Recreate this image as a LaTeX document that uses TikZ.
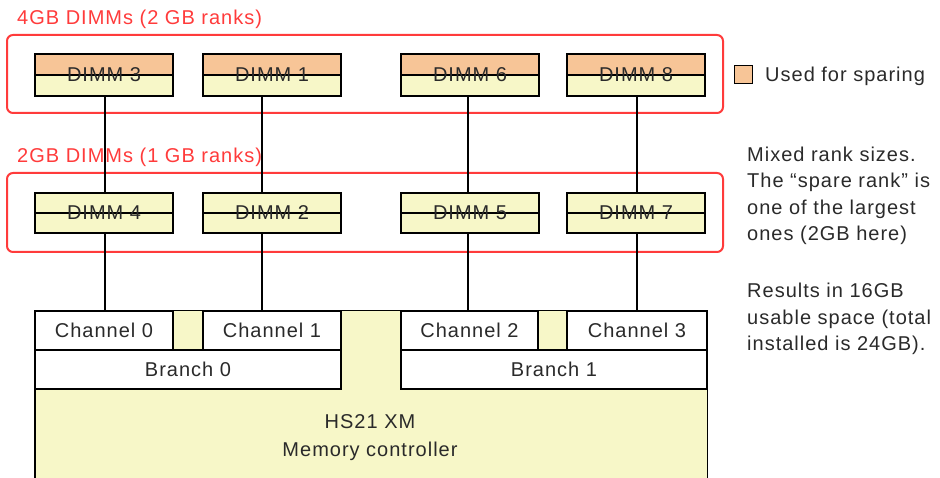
\documentclass[tikz,border=0pt]{standalone}
\usepackage{fontspec}
\setmainfont{Liberation Sans}[LetterSpace=5]
\definecolor{myred}{HTML}{FF3B3B}
\definecolor{myorange}{HTML}{F7C597}
\definecolor{myyellow}{HTML}{F7F7C8}
\definecolor{mytext}{HTML}{2A2A2A}
\tikzset{
  txt/.style={text=mytext, font=\fontsize{20}{24}\selectfont, inner sep=0pt},
  dimm/.style={txt, draw, line width=1.4pt, fill=myyellow, minimum width=138pt, minimum height=42pt,
               path picture={\draw[line width=1.4pt] (path picture bounding box.west) -- (path picture bounding box.east);}},
  sparedimm/.style={dimm, path picture={\fill[myorange] (path picture bounding box.north west) rectangle (path picture bounding box.east);
               \draw[line width=1.4pt] (path picture bounding box.west) -- (path picture bounding box.east);}},
  chan/.style={txt, draw, line width=1.4pt, fill=white, minimum height=39pt},
  grp/.style={draw=myred, line width=2pt, rounded corners=6pt, minimum width=716pt, inner sep=0pt},
  grptitle/.style={txt, text=myred, anchor=base west},
  note/.style={txt, font=\fontsize{20}{26.5}\selectfont, align=left, anchor=base west},
  wire/.style={line width=1.4pt},
}
\begin{document}
\begin{tikzpicture}[x=1pt, y=-1pt]
  \useasboundingbox (0,0) rectangle (940,478);
  \node[grp, minimum height=78pt] (g1) at (365,74) {};
  \node[grp, minimum height=79pt] (g2) at (365,212.5) {};
  \node[grptitle] (t1) at (17,25) {4GB DIMMs (2 GB ranks)};
  \node[grptitle] (t2) at (17,163) {2GB DIMMs (1 GB ranks)};
  \node[fill=myyellow, minimum width=672pt, minimum height=172pt, inner sep=0pt] (mc) at (371,397) {};
  \draw[line width=1.4pt] (mc.south west) -- (mc.north west) -- (mc.north east) -- (mc.south east);
  \node[txt, align=center, font=\fontsize{20}{28}\selectfont] (mclab) at (370,438) {HS21 XM\\Memory controller};
  \node[sparedimm] (d3) at (104,75) {DIMM 3};
  \node[sparedimm] (d1) at (272,75) {DIMM 1};
  \node[sparedimm] (d6) at (470,75) {DIMM 6};
  \node[sparedimm] (d8) at (636,75) {DIMM 8};
  \node[dimm, minimum height=40pt] (d4) at (104,213) {DIMM 4};
  \node[dimm, minimum height=40pt] (d2) at (272,213) {DIMM 2};
  \node[dimm, minimum height=40pt] (d5) at (470,213) {DIMM 5};
  \node[dimm, minimum height=40pt] (d7) at (636,213) {DIMM 7};
  \node[chan, minimum width=138pt] (ch0) at (104,330.5) {Channel 0};
  \node[chan, minimum width=138pt] (ch1) at (272,330.5) {Channel 1};
  \node[chan, minimum width=137pt] (ch2) at (469.5,330.5) {Channel 2};
  \node[chan, minimum width=140pt] (ch3) at (637,330.5) {Channel 3};
  \node[chan, minimum width=306pt] (br0) at (188,369.5) {Branch 0};
  \node[chan, minimum width=306pt] (br1) at (554,369.5) {Branch 1};
  \coordinate (b0) at (105,0);
  \coordinate (b1) at (262,0);
  \coordinate (b2) at (468,0);
  \coordinate (b3) at (637,0);
  \draw[wire] (d3.south -| b0) -- (d4.north -| b0) (d4.south -| b0) -- (ch0.north -| b0);
  \draw[wire] (d1.south -| b1) -- (d2.north -| b1) (d2.south -| b1) -- (ch1.north -| b1);
  \draw[wire] (d6.south -| b2) -- (d5.north -| b2) (d5.south -| b2) -- (ch2.north -| b2);
  \draw[wire] (d8.south -| b3) -- (d7.north -| b3) (d7.south -| b3) -- (ch3.north -| b3);
  \node[draw, line width=1.4pt, fill=myorange, minimum size=18pt, inner sep=0pt] (key) at (743.5,74.5) {};
  \node[note] (keylab) at (765,82) {Used for sparing};
  \node[note] (n1) at (747,241) {Mixed rank sizes.\\The “spare rank” is\\one of the largest\\ones (2GB here)};
  \node[note] (n2) at (747,351) {Results in 16GB\\usable space (total\\installed is 24GB).};
\end{tikzpicture}
\end{document}
